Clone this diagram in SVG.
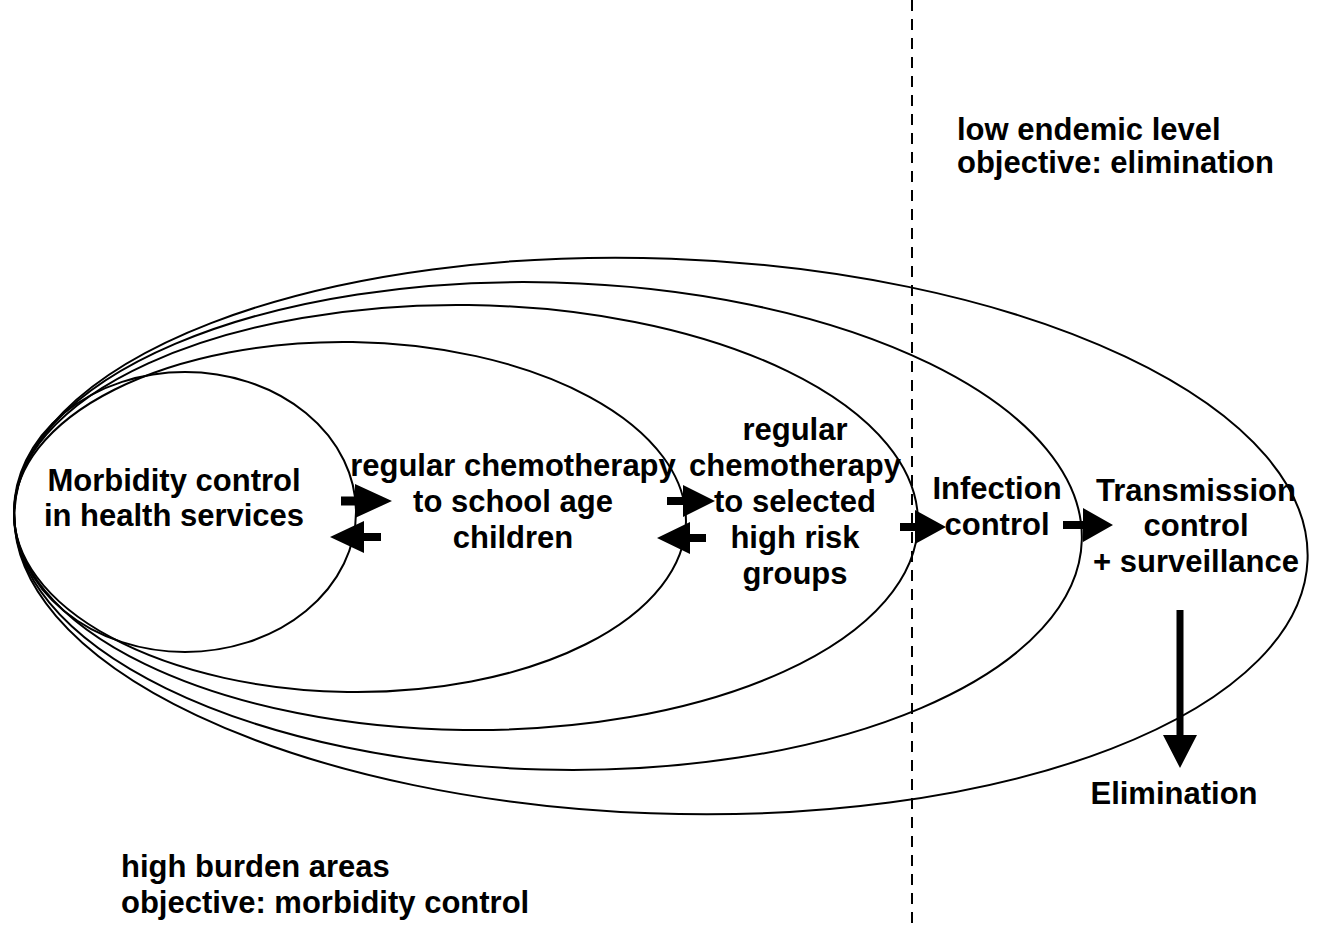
<svg xmlns="http://www.w3.org/2000/svg" width="1320" height="930" viewBox="0 0 1320 930">
<style>
.ell{fill:none;stroke:#000;stroke-width:2}
.t{font-family:"Liberation Sans",Arial,sans-serif;font-weight:bold;font-size:31px;fill:#000}
.c{text-anchor:middle}
.arr{fill:#000;stroke:none}
.dash{stroke:#000;stroke-width:2;stroke-dasharray:11 8;fill:none}
</style>
<rect width="1320" height="930" fill="#fff"/>
<g id="ellipses">
<ellipse id="e5" class="ell" cx="661" cy="536" rx="647" ry="277.5" transform="rotate(2.1 661 536)"/>
<ellipse id="e4" class="ell" cx="548" cy="526" rx="534" ry="243.6" transform="rotate(1.5 548 526)"/>
<ellipse id="e3" class="ell" cx="466" cy="517.5" rx="452" ry="212.5" transform="rotate(0.7 466 517.5)"/>
<ellipse id="e2" class="ell" cx="350" cy="517" rx="336" ry="175" transform="rotate(0.85 350 517)"/>
<ellipse id="e1" class="ell" cx="185" cy="512" rx="171" ry="140"/>
</g>
<line id="divider" class="dash" x1="912" y1="0" x2="912" y2="930"/>
<g id="n-morbidity">
<text class="t c" x="174" y="491">Morbidity control</text>
<text class="t c" x="174" y="526">in health services</text>
</g>
<g id="n-school">
<text class="t c" x="513" y="476">regular chemotherapy</text>
<text class="t c" x="513" y="512">to school age</text>
<text class="t c" x="513" y="548">children</text>
</g>
<g id="n-highrisk">
<text class="t c" x="795" y="440">regular</text>
<text class="t c" x="795" y="476">chemotherapy</text>
<text class="t c" x="795" y="512">to selected</text>
<text class="t c" x="795" y="548">high risk</text>
<text class="t c" x="795" y="584">groups</text>
</g>
<g id="n-infection">
<text class="t c" x="997" y="499">Infection</text>
<text class="t c" x="997" y="535">control</text>
</g>
<g id="n-transmission">
<text class="t c" x="1196" y="501">Transmission</text>
<text class="t c" x="1196" y="536">control</text>
<text class="t c" x="1196" y="572">+ surveillance</text>
</g>
<g id="n-elimination">
<text class="t c" x="1174" y="804">Elimination</text>
</g>
<g id="n-low">
<text class="t" x="957" y="140">low endemic level</text>
<text class="t" x="957" y="173">objective: elimination</text>
</g>
<g id="n-high">
<text class="t" x="121" y="877">high burden areas</text>
<text class="t" x="121" y="913">objective: morbidity control</text>
</g>
<g id="connectors">
<polygon class="arr" points="341,496.5 355,496.5 355,484 392,501 355,518 355,505.5 341,505.5"/>
<polygon class="arr" points="381,533 364,533 364,521 330,537 364,553 364,541 381,541"/>
<polygon class="arr" points="667,497 683,497 683,485 715,501 683,517 683,505 667,505"/>
<polygon class="arr" points="706,534 690,534 690,522 657,538 690,554 690,542 706,542"/>
<polygon class="arr" points="900,523 915,523 915,510 946,527 915,544 915,531 900,531"/>
<polygon class="arr" points="1063,521 1083,521 1083,508 1113,525 1083,542 1083,529 1063,529"/>
<polygon class="arr" points="1176.5,610 1183.5,610 1183.5,735 1197,735 1180,768 1163,735 1176.5,735"/>
</g>
</svg>
